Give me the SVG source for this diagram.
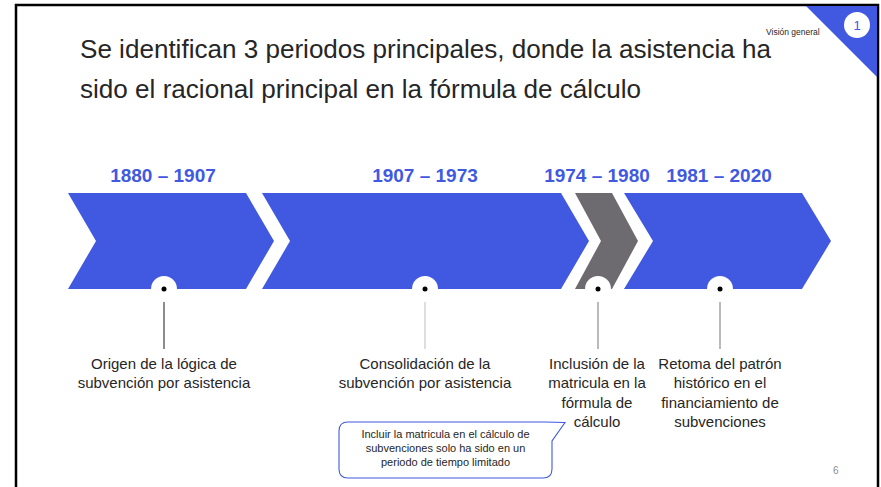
<svg xmlns="http://www.w3.org/2000/svg" width="881" height="487" viewBox="0 0 881 487">
<style>
.bg{fill:#ffffff}
.frame{fill:none;stroke:#000000;stroke-width:2.5}
.title{font-family:"Liberation Sans",Arial,sans-serif;font-size:25px;fill:#262626}
.year{font-family:"Liberation Sans",Arial,sans-serif;font-size:19px;font-weight:bold;fill:#4159e1;text-anchor:middle}
.chev{fill:#4159e1}
.chev-gray{fill:#6d6b70}
.hole{fill:#ffffff}
.dot{fill:#000000}
.lbl{font-family:"Liberation Sans",Arial,sans-serif;font-size:15px;fill:#262626;text-anchor:middle}
.note{font-family:"Liberation Sans",Arial,sans-serif;font-size:11px;fill:#262626;text-anchor:middle}
.small{font-family:"Liberation Sans",Arial,sans-serif;font-size:8.5px;fill:#262626}
.conn{stroke-width:1.2;fill:none}
</style>
<rect class="bg" x="0" y="0" width="881" height="487"/>
<rect class="frame" x="16" y="5" width="862" height="500"/>

<g id="badge">
  <polygon points="806,6 877,6 877,77" fill="#4159e1"/>
  <circle cx="857" cy="25" r="13" fill="#ffffff"/>
  <text x="857" y="30" font-family="Liberation Sans, Arial, sans-serif" font-size="13" fill="#4159e1" text-anchor="middle">1</text>
  <text class="small" x="766" y="35">Visión general</text>
</g>

<g id="title">
  <text class="title" x="80" y="58" textLength="691" lengthAdjust="spacingAndGlyphs">Se identifican 3 periodos principales, donde la asistencia ha</text>
  <text class="title" x="80" y="98" textLength="561" lengthAdjust="spacingAndGlyphs">sido el racional principal en la fórmula de cálculo</text>
</g>

<g id="connectors">
  <line class="conn" x1="164" y1="289" x2="164" y2="349" stroke="#404040"/>
  <line class="conn" x1="425" y1="289" x2="425" y2="349" stroke="#c8c8c8"/>
  <line class="conn" x1="598" y1="289" x2="598" y2="349" stroke="#8c8c8c"/>
  <line class="conn" x1="720" y1="289" x2="720" y2="349" stroke="#8c8c8c"/>
</g>

<g id="period1">
  <text class="year" x="163" y="182">1880 – 1907</text>
  <polygon class="chev" points="68,193 246,193 274,241 246,289 68,289 96,241"/>
  <circle class="hole" cx="164" cy="289" r="13"/>
  <circle class="dot" cx="164" cy="289" r="2.5"/>
  <text class="lbl" x="164" y="369">Origen de la lógica de</text>
  <text class="lbl" x="164" y="388">subvención por asistencia</text>
</g>

<g id="period2">
  <text class="year" x="425" y="182">1907 – 1973</text>
  <polygon class="chev" points="262,193 561,193 589,241 561,289 262,289 290,241"/>
  <circle class="hole" cx="425" cy="289" r="13"/>
  <circle class="dot" cx="425" cy="289" r="2.5"/>
  <text class="lbl" x="425" y="369">Consolidación de la</text>
  <text class="lbl" x="425" y="388">subvención por asistencia</text>
</g>

<g id="period3">
  <text class="year" x="597" y="182">1974 – 1980</text>
  <polygon class="chev-gray" points="575,193 612,193 638,241 612,289 575,289 601,241"/>
  <circle class="hole" cx="598" cy="289" r="13"/>
  <circle class="dot" cx="598" cy="289" r="2.5"/>
  <text class="lbl" x="597" y="369">Inclusión de la</text>
  <text class="lbl" x="597" y="388">matricula en la</text>
  <text class="lbl" x="597" y="408">fórmula de</text>
  <text class="lbl" x="597" y="427">cálculo</text>
</g>

<g id="period4">
  <text class="year" x="719" y="182">1981 – 2020</text>
  <polygon class="chev" points="624,193 802,193 831,241 802,289 624,289 653,241"/>
  <circle class="hole" cx="720" cy="289" r="13"/>
  <circle class="dot" cx="720" cy="289" r="2.5"/>
  <text class="lbl" x="720" y="369">Retoma del patrón</text>
  <text class="lbl" x="720" y="388">histórico en el</text>
  <text class="lbl" x="720" y="408">financiamiento de</text>
  <text class="lbl" x="720" y="427">subvenciones</text>
</g>

<g id="callout">
  <path d="M348,422 H544 L565,422.5 L552,441 V469 Q552,478 543,478 H348 Q339,478 339,469 V431 Q339,422 348,422 Z" fill="#ffffff" stroke="#4159e1" stroke-width="1.1"/>
  <text class="note" x="445.5" y="438">Incluir la matricula en el cálculo de</text>
  <text class="note" x="445.5" y="452">subvenciones solo ha sido en un</text>
  <text class="note" x="445.5" y="466">periodo de tiempo limitado</text>
</g>

<text x="833" y="474" font-family="Liberation Sans, Arial, sans-serif" font-size="10" fill="#8c8c8c">6</text>
</svg>
